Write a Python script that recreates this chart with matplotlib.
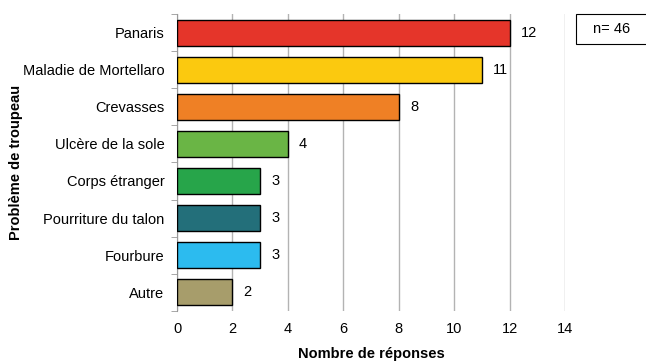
import matplotlib
matplotlib.use("Agg")
import matplotlib.pyplot as plt
from matplotlib.patches import Rectangle
import numpy as np

plt.rcParams["font.family"] = ["Liberation Sans", "DejaVu Sans"]

# data
categories = [
    "Panaris",
    "Maladie de Mortellaro",
    "Crevasses",
    "Ulcère de la sole",
    "Corps étranger",
    "Pourriture du talon",
    "Fourbure",
    "Autre",
]
values = [12, 11, 8, 4, 3, 3, 3, 2]
colors = [
    "#E5352A",
    "#FBC90F",
    "#EF8025",
    "#6AB545",
    "#27A54A",
    "#236F7A",
    "#2CBBEF",
    "#A79D6B",
]
n_total = 46

fs = 10.5

fig = plt.figure(figsize=(6.46, 3.61), dpi=100)
ax = fig.add_axes([0.274, 0.139, 0.601, 0.822])

ypos = np.arange(len(categories))
ax.barh(ypos, values, height=0.7, color=colors, edgecolor="black", linewidth=1.0, zorder=3)
for y, v in zip(ypos, values):
    ax.annotate(str(v), (v, y), xytext=(8, 0), textcoords="offset points",
                va="center", ha="left", fontsize=fs)

ax.set_ylim(len(categories) - 0.5, -0.5)
ax.set_xlim(0, 14)
ax.set_xticks(np.arange(0, 15, 2))
ax.set_yticks(ypos)
ax.set_yticklabels(categories, fontsize=fs)
ax.set_yticks(np.arange(-0.5, len(categories), 1), minor=True)
ax.tick_params(axis="y", which="major", length=0, pad=9)
ax.tick_params(axis="y", which="minor", length=4, color="#999999")
ax.tick_params(axis="x", length=0, labelsize=fs, pad=8)

ax.grid(axis="x", color="#B3B3B3", linewidth=1.0, zorder=0)
for s in ["top", "right", "bottom"]:
    ax.spines[s].set_visible(False)
ax.spines["left"].set_color("#999999")

ax.set_xlabel("Nombre de réponses", fontsize=fs, fontweight="bold", labelpad=8)
ax.set_ylabel("Problème de troupeau", fontsize=fs, fontweight="bold", labelpad=0)

# n box at top right, running off the edge
fig.patches.append(Rectangle((576 / 646, 1 - 44 / 361), 0.2, 30 / 361,
                             transform=fig.transFigure, facecolor="white",
                             edgecolor="black", linewidth=0.8))
fig.text(593 / 646, 1 - 29 / 361, "n= %d" % n_total, fontsize=fs, ha="left", va="center")

fig.savefig("out.png", dpi=100)
